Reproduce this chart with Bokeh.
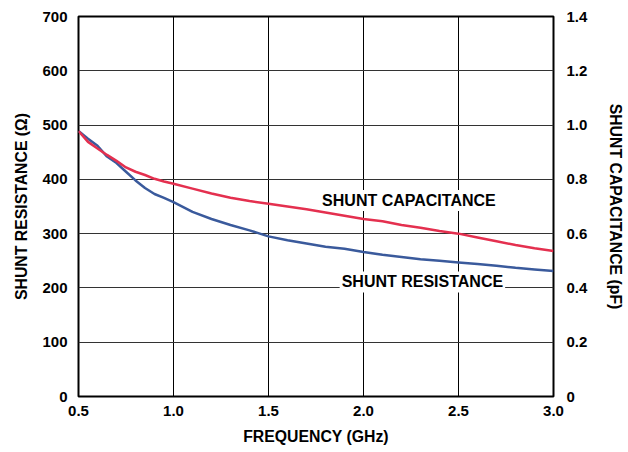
from bokeh.plotting import figure
from bokeh.models import Range1d, LinearAxis, FixedTicker, Label
from bokeh.embed import file_html
from bokeh.resources import INLINE

# ---- data ----
freq = [0.5, 0.55, 0.6, 0.65, 0.7, 0.75, 0.8, 0.85, 0.9, 0.95, 1.0,
        1.1, 1.2, 1.3, 1.4, 1.5, 1.6, 1.7, 1.8, 1.9, 2.0,
        2.1, 2.2, 2.3, 2.4, 2.5, 2.6, 2.7, 2.8, 2.9, 3.0]
resistance = [489, 475, 462, 442, 430, 414, 398, 384, 373, 366, 358,
              340, 327, 316, 306, 295, 288, 282, 276, 272, 266,
              261, 257, 253, 250, 247, 244, 241, 237, 234, 231]
capacitance = [0.978, 0.938, 0.914, 0.890, 0.868, 0.844, 0.828, 0.816, 0.802, 0.792, 0.784,
               0.766, 0.748, 0.732, 0.720, 0.710, 0.700, 0.690, 0.678, 0.666, 0.654,
               0.646, 0.632, 0.622, 0.610, 0.600, 0.586, 0.572, 0.558, 0.546, 0.536]

x_ticks = [0.5, 1.0, 1.5, 2.0, 2.5, 3.0]
x_tick_labels = ["0.5", "1.0", "1.5", "2.0", "2.5", "3.0"]
res_ticks = [0, 100, 200, 300, 400, 500, 600, 700]
res_tick_labels = ["0", "100", "200", "300", "400", "500", "600", "700"]
cap_ticks = [0, 0.2, 0.4, 0.6, 0.8, 1.0, 1.2, 1.4]
cap_tick_labels = ["0", "0.2", "0.4", "0.6", "0.8", "1.0", "1.2", "1.4"]

x_title = "FREQUENCY (GHz)"
left_title = "SHUNT RESISTANCE (Ω)"
right_title = "SHUNT CAPACITANCE (pF)"
cap_label = "SHUNT CAPACITANCE"
res_label = "SHUNT RESISTANCE"

FONT = "Liberation Sans"
RED = "#e4304f"
BLUE = "#3a5a9c"

p = figure(frame_width=475, frame_height=380,
           x_range=Range1d(0.5, 3.0), y_range=Range1d(0, 700),
           output_backend="svg", toolbar_location=None,
           min_border_left=78, min_border_right=60,
           min_border_top=16, min_border_bottom=44)
p.extra_y_ranges = {"cap": Range1d(0, 1.4)}

p.background_fill_color = "white"
p.border_fill_color = "white"
p.outline_line_color = "black"
p.outline_line_width = 2

right_axis = LinearAxis(y_range_name="cap")
p.add_layout(right_axis, "right")

def style_axis(ax, ticks, labels, title, standoff, title_standoff):
    ax.ticker = FixedTicker(ticks=ticks)
    ax.major_label_overrides = {t: l for t, l in zip(ticks, labels)}
    ax.axis_label = title
    ax.axis_label_text_font = FONT
    ax.axis_label_text_font_style = "bold"
    ax.axis_label_text_font_size = "15.8px"
    ax.axis_label_text_color = "black"
    ax.axis_label_standoff = title_standoff
    ax.major_label_text_font = FONT
    ax.major_label_text_font_style = "bold"
    ax.major_label_text_font_size = "15px"
    ax.major_label_text_color = "black"
    ax.major_label_standoff = standoff
    ax.major_tick_line_color = None
    ax.minor_tick_line_color = None
    ax.axis_line_color = None

style_axis(p.xaxis[0], x_ticks, x_tick_labels, x_title, 3, 9)
style_axis(p.yaxis[0], res_ticks, res_tick_labels, left_title, 5, 9)
style_axis(right_axis, cap_ticks, cap_tick_labels, right_title, 7, 17)

p.xgrid.ticker = FixedTicker(ticks=x_ticks)
p.ygrid.ticker = FixedTicker(ticks=res_ticks)
p.xgrid.grid_line_color = "black"
p.xgrid.grid_line_width = 1
p.ygrid.grid_line_color = "#333333"
p.ygrid.grid_line_width = 1.2

p.add_layout(Label(x=2.239, y=361, text=cap_label, text_align="center",
                   text_baseline="middle", text_font=FONT, text_font_style="bold",
                   text_font_size="16px", text_color="black",
                   background_fill_color="white", padding=2, level="underlay"))
p.add_layout(Label(x=2.31, y=211, text=res_label, text_align="center",
                   text_baseline="middle", text_font=FONT, text_font_style="bold",
                   text_font_size="16px", text_color="black",
                   background_fill_color="white", padding=2, level="underlay"))

p.line(freq, resistance, line_color=BLUE, line_width=2.5)
p.line(freq, capacitance, y_range_name="cap", line_color=RED, line_width=2.5)

open("out.html", "w").write(file_html(p, INLINE))
